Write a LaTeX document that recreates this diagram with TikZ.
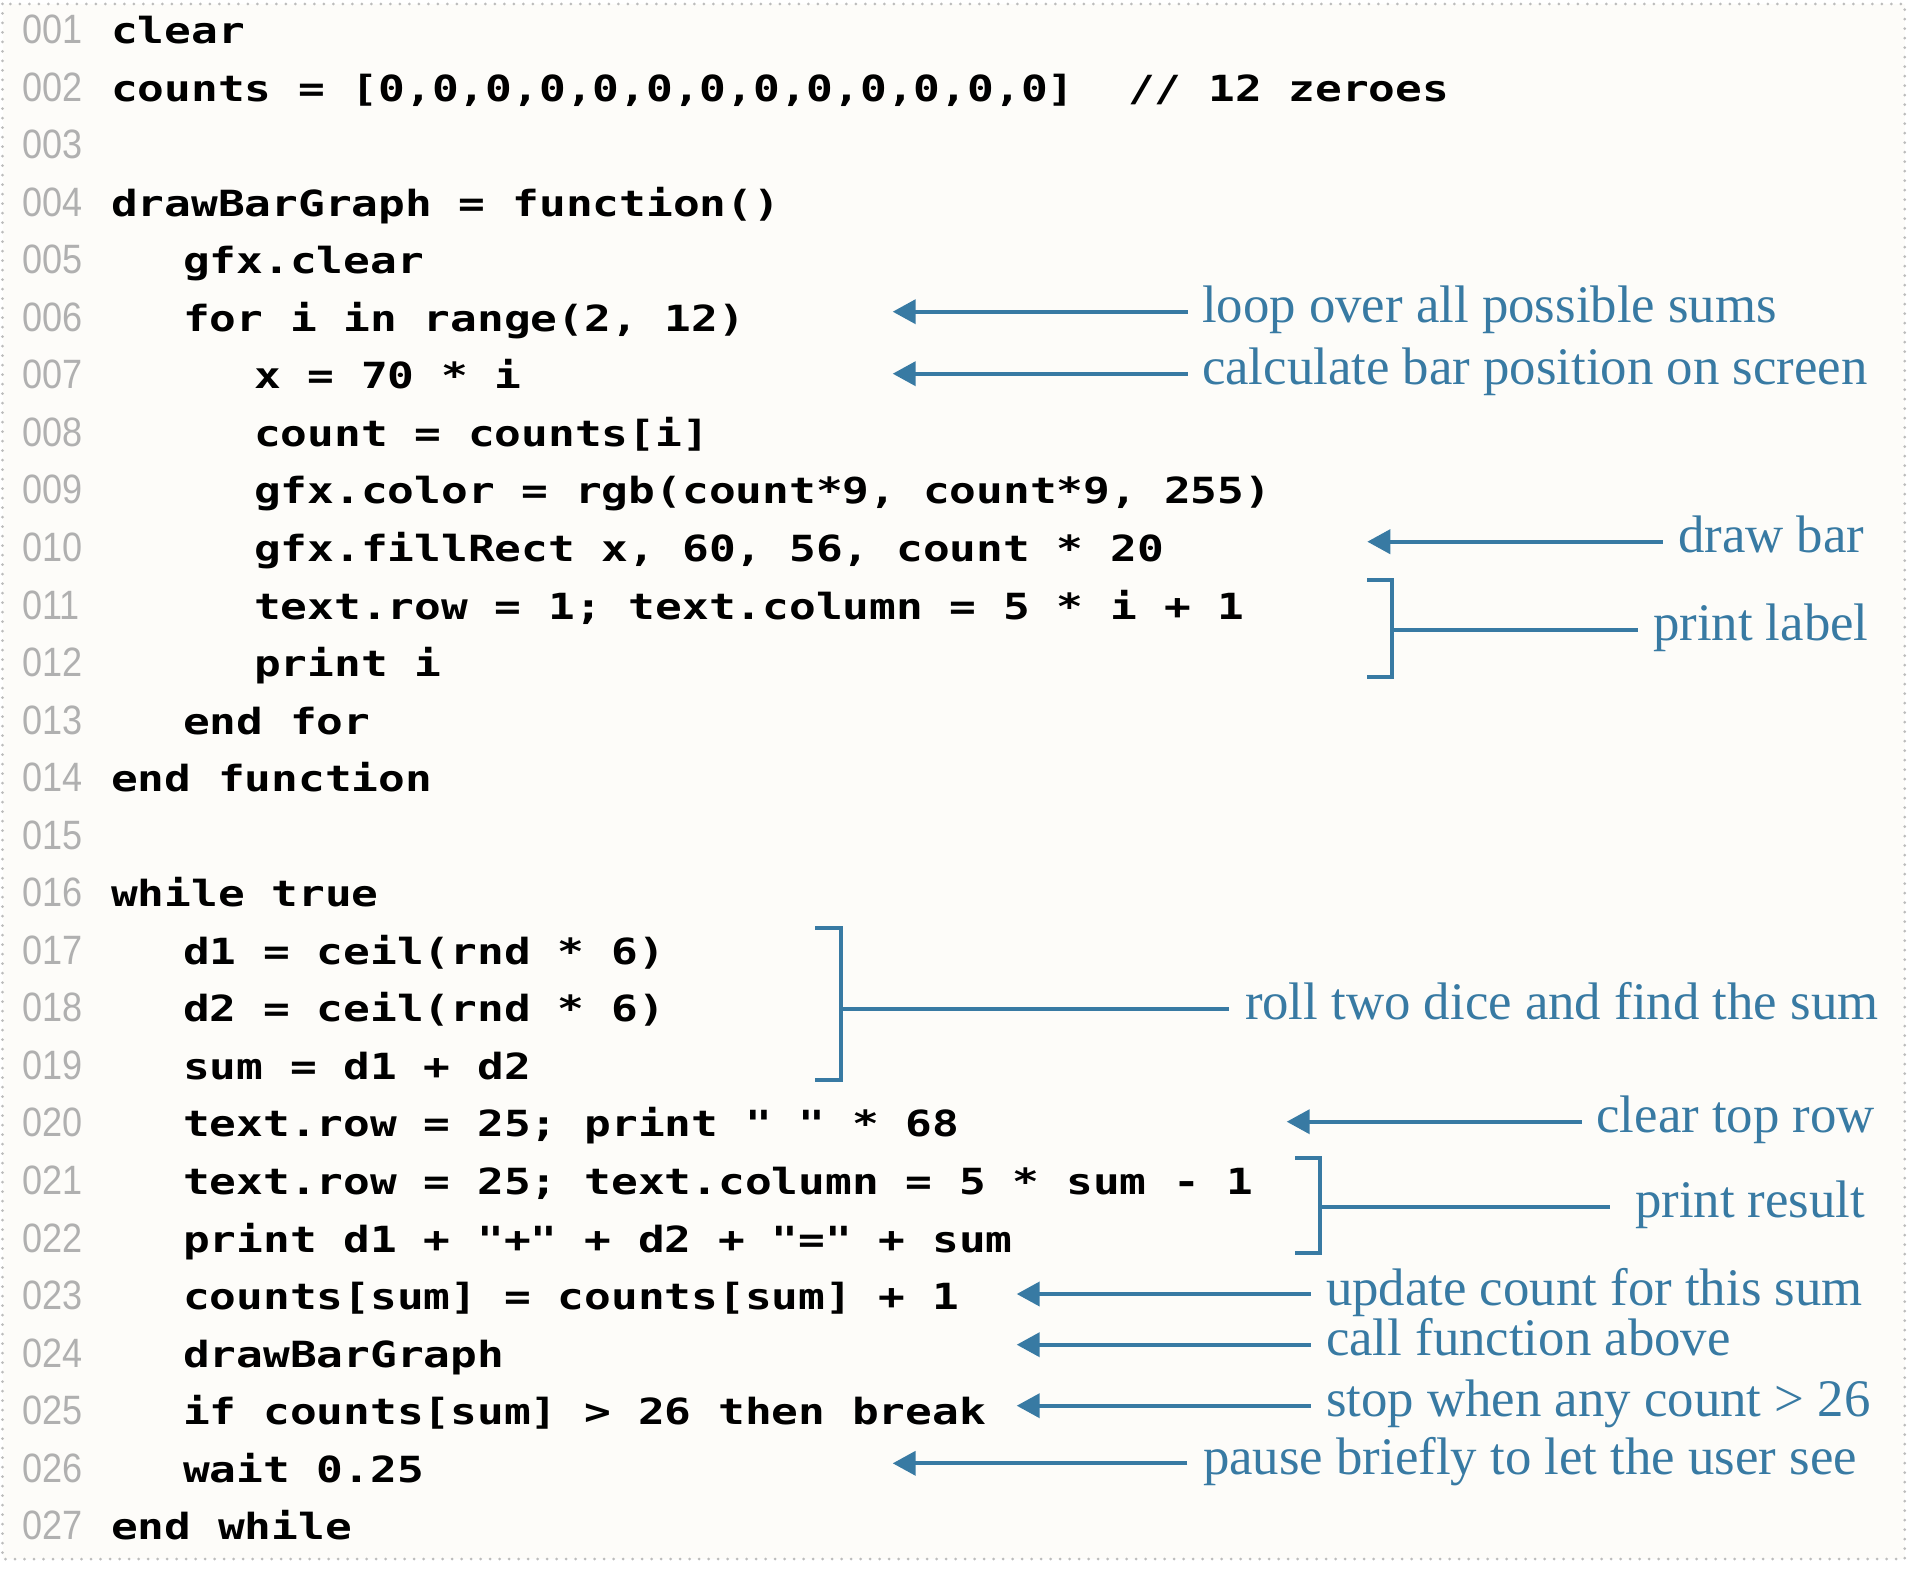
\documentclass[tikz,border=0pt]{standalone}
\usepackage{fontspec}
\setmonofont{DejaVu Sans Mono}[FakeStretch=1.235]
\newfontfamily\numfont{Liberation Sans}[FakeStretch=0.88]
\newfontfamily\notefont{Liberation Serif}
\usetikzlibrary{arrows.meta}
\definecolor{noteblue}{RGB}{56,122,163}
\definecolor{numgray}{RGB}{176,176,176}
\definecolor{paper}{RGB}{253,252,249}
\definecolor{dotgray}{RGB}{188,188,188}
\begin{document}
\begin{tikzpicture}[x=1bp,y=-1bp,
  code/.style={anchor=base west, inner sep=0pt, outer sep=0pt,
    font=\ttfamily\bfseries\fontsize{36bp}{40bp}\selectfont, text=black},
  lnum/.style={anchor=base west, inner sep=0pt, outer sep=0pt,
    font=\numfont\fontsize{41bp}{44bp}\selectfont, text=numgray},
  note/.style={anchor=base west, inner sep=0pt, outer sep=0pt,
    font=\notefont\fontsize{52.8bp}{56bp}\selectfont, text=noteblue},
  callout/.style={draw=noteblue, line width=4bp, -{Triangle[length=23bp,width=24bp]}},
  bracketline/.style={draw=noteblue, line width=4bp, line join=miter, line cap=butt},
  frame/.style={draw=dotgray, fill=paper, line width=3bp, line cap=round,
    dash pattern=on 0bp off 9.5bp}
]
\useasboundingbox (0,0) rectangle (1908,1570);
\fill[white] (0,0) rectangle (1908,1570);
\path[frame] (2.5,4) rectangle (1904.7,1559);

% line numbers
\foreach \n in {1,...,27}{
  \node[lnum] (n\n) at (22,{43.5+(\n-1)*57.55}) {\ifnum\n<10 00\n\else 0\n\fi};
}

% code
\def\La{111}
\def\Lb{183}
\def\Lc{254}
\node[code] (c1)  at (\La,43.5)    {clear};
\node[code] (c2)  at (\La,101.05)  {counts = [0,0,0,0,0,0,0,0,0,0,0,0,0]\ \ // 12 zeroes};
\node[code] (c4)  at (\La,216.15)  {drawBarGraph = function()};
\node[code] (c5)  at (\Lb,273.7)   {gfx.clear};
\node[code] (c6)  at (\Lb,331.25)  {for i in range(2, 12)};
\node[code] (c7)  at (\Lc,388.8)   {x = 70 * i};
\node[code] (c8)  at (\Lc,446.35)  {count = counts[i]};
\node[code] (c9)  at (\Lc,503.9)   {gfx.color = rgb(count*9, count*9, 255)};
\node[code] (c10) at (\Lc,561.45)  {gfx.fillRect x, 60, 56, count * 20};
\node[code] (c11) at (\Lc,619.0)   {text.row = 1; text.column = 5 * i + 1};
\node[code] (c12) at (\Lc,676.55)  {print i};
\node[code] (c13) at (\Lb,734.1)   {end for};
\node[code] (c14) at (\La,791.65)  {end function};
\node[code] (c16) at (\La,906.75)  {while true};
\node[code] (c17) at (\Lb,964.3)   {d1 = ceil(rnd * 6)};
\node[code] (c18) at (\Lb,1021.85) {d2 = ceil(rnd * 6)};
\node[code] (c19) at (\Lb,1079.4)  {sum = d1 + d2};
\node[code] (c20) at (\Lb,1136.95) {text.row = 25; print " " * 68};
\node[code] (c21) at (\Lb,1194.5)  {text.row = 25; text.column = 5 * sum - 1};
\node[code] (c22) at (\Lb,1252.05) {print d1 + "+" + d2 + "=" + sum};
\node[code] (c23) at (\Lb,1309.6)  {counts[sum] = counts[sum] + 1};
\node[code] (c24) at (\Lb,1367.15) {drawBarGraph};
\node[code] (c25) at (\Lb,1424.7)  {if counts[sum] > 26 then break};
\node[code] (c26) at (\Lb,1482.25) {wait 0.25};
\node[code] (c27) at (\La,1539.8)  {end while};

% annotation texts
\node[note] (a6)  at (1202,322.7)   {loop over all possible sums};
\node[note] (a7)  at (1202,384.7)   {calculate bar position on screen};
\node[note] (a10) at (1678,552.7)   {draw bar};
\node[note] (a11) at (1653,640.7)   {print label};
\node[note] (a17) at (1245,1019.5)  {roll two dice and find the sum};
\node[note] (a20) at (1596.5,1132.7){clear top row};
\node[note] (a21) at (1635,1217.7)  {print result};
\node[note] (a23) at (1326,1305)    {update count for this sum};
\node[note] (a24) at (1326,1355.7)  {call function above};
\node[note] (a25) at (1326,1416.7)  {stop when any count > 26};
\node[note] (a26) at (1203,1474.3)  {pause briefly to let the user see};

% arrow end points
\coordinate (s6)  at (1187.7,311.7);  \coordinate (t6)  at (892.7,311.7);
\coordinate (s7)  at (1187.7,373.7);  \coordinate (t7)  at (892.7,373.7);
\coordinate (s10) at (1662.7,541.7);  \coordinate (t10) at (1367.3,541.7);
\coordinate (s20) at (1581.7,1121.7); \coordinate (t20) at (1286.7,1121.7);
\coordinate (s23) at (1310.7,1294);   \coordinate (t23) at (1016.7,1294);
\coordinate (s24) at (1310.7,1344.7); \coordinate (t24) at (1016.7,1344.7);
\coordinate (s25) at (1310.7,1405.7); \coordinate (t25) at (1016.7,1405.7);
\coordinate (s26) at (1187.3,1463.3); \coordinate (t26) at (892.7,1463.3);

\foreach \k in {6,7,10,20,23,24,25,26}{
  \draw[callout] (s\k) -- (t\k);
}

% brackets
\coordinate (b11top) at (1367.3,580);   \coordinate (b11bot) at (1367.3,676.7);
\coordinate (b11mid) at (1392.3,629.7); \coordinate (b11end) at (1638.3,629.7);
\draw[bracketline] (b11top) -- (1392.3,580) -- (1392.3,676.7) -- (b11bot);
\draw[bracketline] (b11mid) -- (b11end);

\coordinate (b17top) at (815,928);      \coordinate (b17bot) at (815,1080);
\coordinate (b17mid) at (840.5,1008.5); \coordinate (b17end) at (1229,1008.5);
\draw[bracketline] (b17top) -- (840.5,928) -- (840.5,1080) -- (b17bot);
\draw[bracketline] (b17mid) -- (b17end);

\coordinate (b21top) at (1295,1157.7);  \coordinate (b21bot) at (1295,1253.3);
\coordinate (b21mid) at (1320,1206.7);  \coordinate (b21end) at (1610,1206.7);
\draw[bracketline] (b21top) -- (1320,1157.7) -- (1320,1253.3) -- (b21bot);
\draw[bracketline] (b21mid) -- (b21end);
\end{tikzpicture}
\end{document}
